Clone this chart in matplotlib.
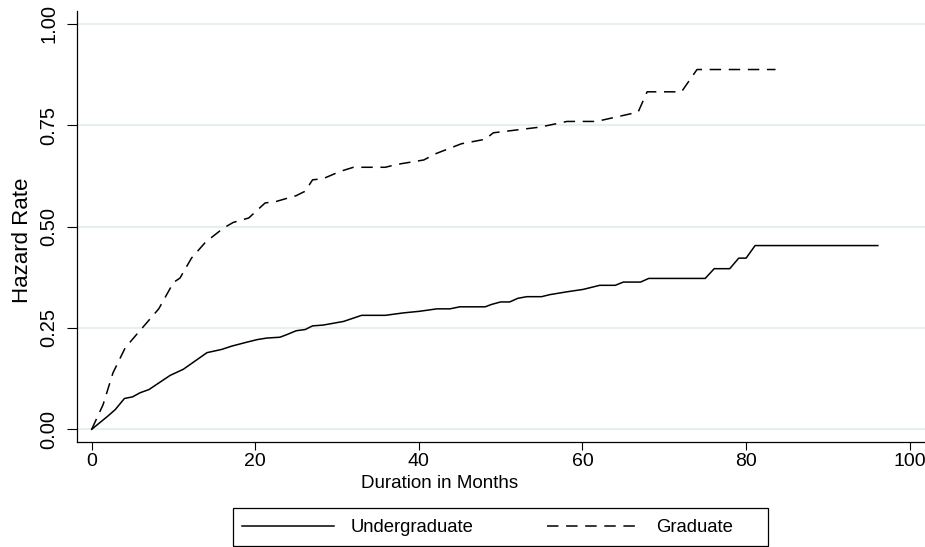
import matplotlib
matplotlib.use("Agg")
import matplotlib.pyplot as plt
from matplotlib.patches import Rectangle

# --- data (months, cumulative hazard) ---
ug_months = [0, 2.0, 2.9, 4.0, 5.0, 5.9, 7.0, 9.6, 11.2, 14.1, 15.9, 17.1, 19.0,
             20.2, 21.4, 23.0, 23.8, 25.0, 26.1, 27.0, 28.3, 30.8, 33.0, 35.9,
             38.1, 40.1, 42.2, 43.8, 45.0, 48.1, 48.9, 50.0, 51.1, 52.1, 53.2,
             55.0, 56.0, 58.1, 60.1, 62.1, 64.0, 65.0, 67.1, 68.1, 75.0, 76.1,
             78.0, 79.1, 80.0, 81.1, 96.1]
ug_hazard = [0, 0.033, 0.049, 0.076, 0.080, 0.090, 0.098, 0.133, 0.148, 0.189,
             0.197, 0.205, 0.215, 0.221, 0.225, 0.227, 0.233, 0.243, 0.246,
             0.255, 0.257, 0.266, 0.281, 0.281, 0.287, 0.291, 0.297, 0.297,
             0.302, 0.302, 0.308, 0.314, 0.314, 0.323, 0.327, 0.327, 0.332,
             0.339, 0.345, 0.355, 0.355, 0.363, 0.363, 0.372, 0.372, 0.396,
             0.396, 0.422, 0.422, 0.453, 0.453]

gr_months = [0, 1.4, 2.6, 4.1, 5.5, 6.7, 8.2, 10.0, 10.8, 12.2, 13.9, 16.1, 17.3,
             19.2, 21.2, 22.6, 25.0, 26.1, 27.0, 28.3, 30.4, 32.0, 35.9, 37.3,
             40.6, 42.0, 45.2, 48.1, 49.1, 54.8, 58.1, 61.7, 66.8, 67.9, 72.1,
             74.0, 83.6]
gr_hazard = [0, 0.061, 0.139, 0.201, 0.234, 0.262, 0.297, 0.362, 0.373, 0.422,
             0.461, 0.496, 0.510, 0.521, 0.558, 0.562, 0.576, 0.587, 0.615,
             0.618, 0.636, 0.646, 0.646, 0.653, 0.664, 0.679, 0.704, 0.715,
             0.731, 0.745, 0.759, 0.759, 0.782, 0.832, 0.832, 0.887, 0.887]

x_ticks = [0, 20, 40, 60, 80, 100]
y_ticks = [0, 0.25, 0.50, 0.75, 1.00]
y_ticklabels = ["0.00", "0.25", "0.50", "0.75", "1.00"]

plt.rcParams["font.family"] = ["Liberation Sans", "DejaVu Sans"]

W, H = 925, 547
fig = plt.figure(figsize=(W / 100, H / 100), dpi=100)
ax = fig.add_axes([76.7 / W, 1 - 442.3 / H, (W - 76.7) / W, (442.3 - 10.7) / H])

ax.plot(ug_months, ug_hazard, color="black", lw=1.1, label="Undergraduate", zorder=3)
ax.plot(gr_months, gr_hazard, color="black", lw=1.1, dashes=(7.5, 5.0),
        label="Graduate", zorder=3)

ax.set_xlim(-1.83, 101.87)
ax.set_ylim(-0.032, 1.032)

ax.set_xticks(x_ticks)
ax.set_xticklabels([str(t) for t in x_ticks], fontsize=14)
ax.set_yticks(y_ticks)
ax.set_yticklabels(y_ticklabels, fontsize=14.5, rotation=90, va="center")

ax.tick_params(axis="x", length=6, width=0.8, pad=1.5, direction="out")
ax.tick_params(axis="y", length=7.2, width=0.8, pad=6, direction="out")

ax.yaxis.grid(True, color="#e4ecef", lw=1.2, zorder=0)
ax.set_axisbelow(True)

for s in ["top", "right"]:
    ax.spines[s].set_visible(False)
for s in ["left", "bottom"]:
    ax.spines[s].set_linewidth(0.9)

ax.set_xlabel("Duration in Months", fontsize=13.5)
ax.xaxis.set_label_coords((439.5 - 76.7) / (W - 76.7), (442.3 - 475.5) / 431.6)
ax.set_ylabel("Hazard Rate", fontsize=16)
ax.yaxis.set_label_coords((32.7 - 76.7) / (W - 76.7), (442.3 - 240) / 431.6)

# legend below the plot, framed box drawn separately
leg = ax.legend(loc="center left", bbox_to_anchor=(232.7 / W, 1 - 527.5 / H),
                bbox_transform=fig.transFigure, ncol=2, frameon=False,
                prop={"size": 13.3}, handlelength=5.0,
                handletextpad=0.9, columnspacing=3.95, borderpad=0.5,
                borderaxespad=0)
fig.patches.append(Rectangle((232.7 / W, 1 - 546 / H), (768.3 - 232.7) / W,
                             (546 - 508.3) / H, transform=fig.transFigure,
                             fill=False, edgecolor="black", lw=0.9))

fig.savefig("out.png", dpi=100)
